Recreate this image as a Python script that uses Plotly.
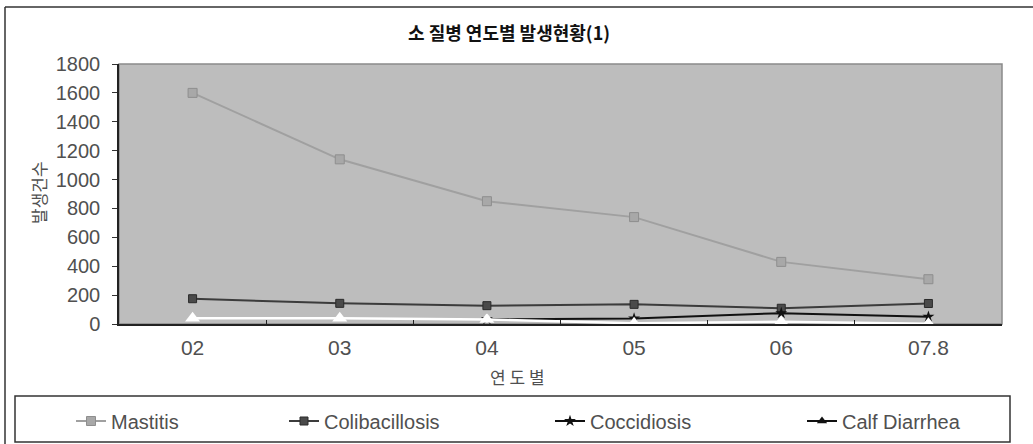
import plotly.graph_objects as go

years = ["02", "03", "04", "05", "06", "07.8"]
mastitis = [1600, 1140, 850, 740, 430, 310]
colibacillosis = [175, 143, 127, 136, 109, 142]
coccidiosis = [None, None, 33, 38, 75, 50]
calf_diarrhea = [40, 40, 32, 5, 15, 2]

title_text = "소 질병 연도별 발생현황(1)"
x_title = "연 도 별"
y_title = "발생건수"
y_ticks = [0, 200, 400, 600, 800, 1000, 1200, 1400, 1600, 1800]

LAT = "Liberation Sans, Arial, sans-serif"
KR = "Noto Sans CJK KR, sans-serif"

fig = go.Figure()
fig.add_trace(go.Scatter(x=years, y=mastitis, name="Mastitis", mode="lines+markers",
                         line=dict(color="#a0a0a0", width=2),
                         marker=dict(symbol="square", size=9, color="#a8a8a8",
                                     line=dict(color="#8e8e8e", width=1)),
                         legend="legend"))
fig.add_trace(go.Scatter(x=years, y=colibacillosis, name="Colibacillosis", mode="lines+markers",
                         line=dict(color="#3c3c3c", width=2),
                         marker=dict(symbol="square", size=8, color="#4a4a4a",
                                     line=dict(color="#2a2a2a", width=1)),
                         legend="legend2"))
fig.add_trace(go.Scatter(x=years, y=coccidiosis, name="Coccidiosis", mode="lines+markers",
                         line=dict(color="#111111", width=2),
                         marker=dict(symbol="star", size=9, color="#111111"),
                         connectgaps=False, legend="legend3"))
# Calf Diarrhea: white in the plot, black symbol in the legend
fig.add_trace(go.Scatter(x=years, y=calf_diarrhea, name="Calf Diarrhea", mode="lines+markers",
                         line=dict(color="#ffffff", width=2.5),
                         marker=dict(symbol="triangle-up", size=13, color="#ffffff"),
                         showlegend=False))
fig.add_trace(go.Scatter(x=[None], y=[None], name="Calf Diarrhea", mode="lines+markers",
                         line=dict(color="#111111", width=2),
                         marker=dict(symbol="triangle-up", size=9, color="#111111"),
                         legend="legend4"))

# plot area in reference pixels: x 119..1002, y 63..323
W, H = 883.0, 260.0
def px(x):
    return (x - 119) / W
def py(y):
    return (323 - y) / H

legend_font = dict(family=LAT, size=20, color="#505050")
common_leg = dict(orientation="h", yanchor="middle", y=py(420), xanchor="left",
                  bgcolor="rgba(0,0,0,0)", borderwidth=0, font=legend_font)

fig.update_layout(
    width=1033, height=452,
    margin=dict(l=119, r=31, t=64, b=123),
    paper_bgcolor="white",
    plot_bgcolor="#bdbdbd",
    showlegend=True,
    legend=dict(x=px(71), **common_leg),
    legend2=dict(x=px(284), **common_leg),
    legend3=dict(x=px(550), **common_leg),
    legend4=dict(x=px(802), **common_leg),
    xaxis=dict(type="category", range=[-0.5, 5.5], showgrid=False, zeroline=False,
               showline=True, linecolor="#222222", linewidth=1.5,
               ticks="inside", tickson="boundaries", ticklen=4, tickcolor="#222222",
               tickfont=dict(family=LAT, size=21, color="#505050"), ticklabelstandoff=4),
    yaxis=dict(range=[0, 1800], tickvals=y_ticks, showgrid=False, zeroline=False,
               showline=True, linecolor="#222222", linewidth=1.5,
               ticks="outside", ticklen=5, tickcolor="#333333", ticklabelstandoff=8,
               tickfont=dict(family=LAT, size=20, color="#505050")),
    shapes=[
        dict(type="rect", xref="paper", yref="paper", x0=0, x1=1, y0=0, y1=1,
             line=dict(color="#8a8a8a", width=1.5), layer="below"),
        dict(type="line", xref="paper", yref="paper", x0=px(5), x1=px(5),
             y0=py(460), y1=py(6), line=dict(color="#333333", width=1.5), layer="below"),
        dict(type="line", xref="paper", yref="paper", x0=px(5), x1=px(1033),
             y0=py(6), y1=py(6), line=dict(color="#333333", width=1.5), layer="below"),
        dict(type="rect", xref="paper", yref="paper", x0=px(15), x1=px(1010),
             y0=py(441), y1=py(395), line=dict(color="#333333", width=1.5), layer="below"),
    ],
    annotations=[
        dict(text=title_text, xref="paper", yref="paper", x=px(509), y=py(31),
             showarrow=False, xanchor="center", yanchor="middle",
             font=dict(family=KR, size=18, color="#111111", weight="bold")),
        dict(text=x_title, xref="paper", yref="paper", x=px(517), y=py(375),
             showarrow=False, xanchor="center", yanchor="middle",
             font=dict(family=KR, size=17, color="#505050")),
        dict(text=y_title, xref="paper", yref="paper", x=px(38), y=py(192),
             showarrow=False, xanchor="center", yanchor="middle", textangle=-90,
             font=dict(family=KR, size=17, color="#505050")),
    ],
)

fig.write_html("out.html", config={"displayModeBar": False},
               post_script="document.body.style.margin='0';document.body.style.overflow='hidden';")
